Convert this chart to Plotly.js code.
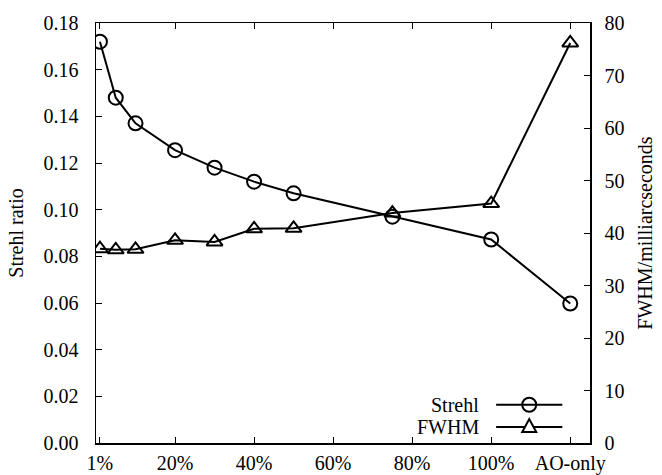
<!DOCTYPE html>
<html>
<head>
<meta charset="utf-8">
<script src="https://cdn.plot.ly/plotly-3.0.1.min.js"></script>
<style>
html,body{margin:0;padding:0;background:#fff;}
#chart{width:662px;height:475px;}
</style>
</head>
<body>
<div id="chart"></div>
<script>
// Data
const xPercent = [1, 5, 10, 20, 30, 40, 50, 75, 100, 120];
const strehl = [0.172, 0.148, 0.137, 0.1255, 0.118, 0.112, 0.107, 0.097, 0.0872, 0.0598];
const fwhm = [37.0, 36.8, 36.9, 38.6, 38.3, 40.8, 40.9, 43.8, 45.6, 76.2];
const xTickVals = [1, 20, 40, 60, 80, 100, 120];
const xTickText = ['1%', '20%', '40%', '60%', '80%', '100%', 'AO-only'];
const seriesNames = ['Strehl', 'FWHM'];

const FONT = '"Liberation Serif", "Times New Roman", "DejaVu Serif", serif';
const fs = 20;

const traces = [
  {
    x: xPercent, y: strehl, name: seriesNames[0], type: 'scatter', mode: 'lines+markers',
    line: {color: '#000', width: 2},
    marker: {symbol: 'circle-open', size: 14, color: '#000', line: {width: 2, color: '#000'}},
    yaxis: 'y', showlegend: false
  },
  {
    x: xPercent, y: fwhm, name: seriesNames[1], type: 'scatter', mode: 'lines+markers',
    line: {color: '#000', width: 2},
    marker: {symbol: 'triangle-up-open', size: 14, color: '#000', line: {width: 2, color: '#000'}},
    yaxis: 'y2', showlegend: false
  }
];

// gnuplot-style key: label on the left, sample on the right
const legY = [0.091, 0.038];
const shapes = [];
const annotations = [];
seriesNames.forEach((nm, i) => {
  annotations.push({
    xref: 'paper', yref: 'paper', x: 0.78, y: legY[i], xanchor: 'right', yanchor: 'middle',
    text: nm, showarrow: false, font: {family: FONT, size: fs, color: '#000'}
  });
  shapes.push({type: 'line', xref: 'paper', yref: 'paper', x0: 0.81, x1: 0.944, y0: legY[i], y1: legY[i],
    line: {color: '#000', width: 2}});
});
shapes.push({type: 'circle', xref: 'paper', yref: 'paper', xsizemode: 'pixel', ysizemode: 'pixel',
  xanchor: 0.877, yanchor: legY[0], x0: -7, x1: 7, y0: -7, y1: 7, line: {color: '#000', width: 2}, fillcolor: 'rgba(0,0,0,0)'});
shapes.push({type: 'path', xref: 'paper', yref: 'paper', xsizemode: 'pixel', ysizemode: 'pixel',
  xanchor: 0.877, yanchor: legY[1], path: 'M -7,-5 L 7,-5 L 0,8 Z', line: {color: '#000', width: 2}, fillcolor: '#fff'});

const layout = {
  width: 662, height: 475,
  margin: {l: 96, r: 72, t: 23, b: 32},
  paper_bgcolor: '#fff', plot_bgcolor: '#fff',
  font: {family: FONT, size: fs, color: '#000'},
  showlegend: false,
  xaxis: {
    range: [0, 125], tickvals: xTickVals, ticktext: xTickText,
    ticks: 'inside', ticklen: 6, tickwidth: 1, tickcolor: '#000',
    showline: true, linecolor: '#000', linewidth: 1.5, mirror: 'ticks',
    showgrid: false, zeroline: false, ticklabelstandoff: 1,
    tickfont: {family: FONT, size: fs, color: '#000'}
  },
  yaxis: {
    range: [0, 0.18], dtick: 0.02, tickformat: '.2f',
    ticks: 'inside', ticklen: 6, tickwidth: 1, tickcolor: '#000',
    showline: true, linecolor: '#000', linewidth: 1.5,
    showgrid: false, zeroline: false, ticklabelstandoff: 12,
    title: {text: 'Strehl ratio', font: {family: FONT, size: fs, color: '#000'}, standoff: 14},
    tickfont: {family: FONT, size: fs, color: '#000'}
  },
  yaxis2: {
    range: [0, 80], dtick: 10, overlaying: 'y', side: 'right',
    ticks: 'inside', ticklen: 6, tickwidth: 1, tickcolor: '#000',
    showline: true, linecolor: '#000', linewidth: 1.5,
    showgrid: false, zeroline: false, ticklabelstandoff: 9,
    title: {text: 'FWHM/milliarcseconds', font: {family: FONT, size: fs, color: '#000'}, standoff: 14},
    tickfont: {family: FONT, size: fs, color: '#000'}
  },
  shapes: shapes,
  annotations: annotations
};

Plotly.newPlot('chart', traces, layout, {displayModeBar: false, staticPlot: true});
</script>
</body>
</html>
